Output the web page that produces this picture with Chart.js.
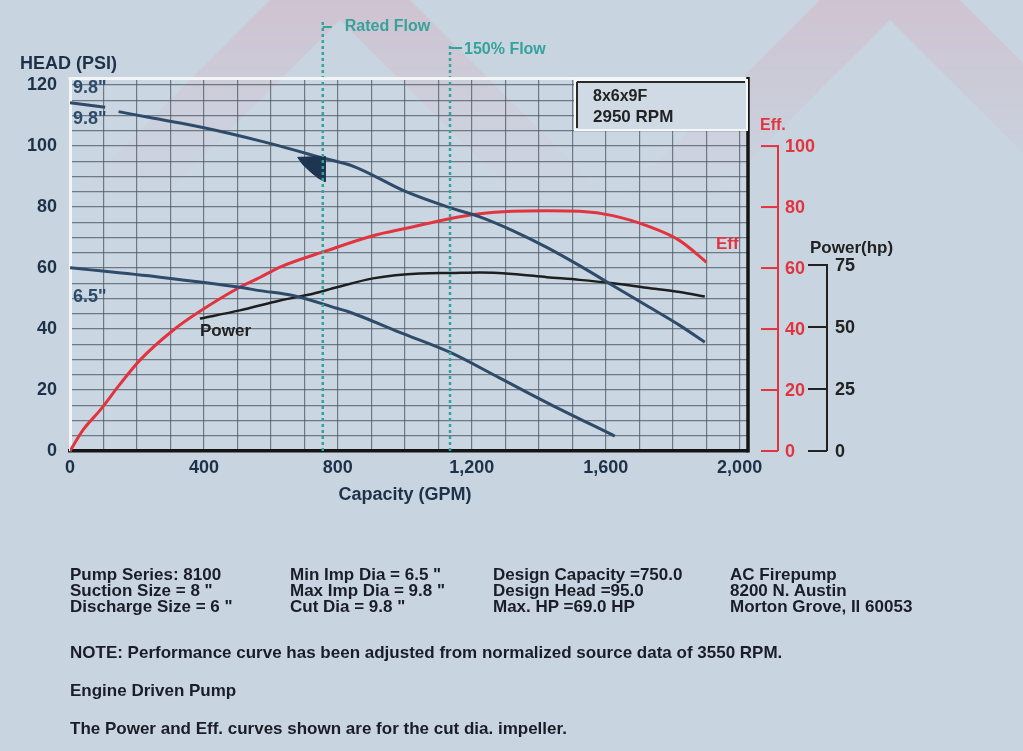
<!DOCTYPE html>
<html>
<head>
<meta charset="utf-8">
<title>Pump curve 8x6x9F</title>
<script src="https://cdn.jsdelivr.net/npm/chart.js@4.4.1/dist/chart.umd.min.js"></script>
<style>
    html, body { margin: 0; padding: 0; }
    body {
        width: 1023px; height: 751px; position: relative; overflow: hidden;
        background: #c8d5e1;
        font-family: "Liberation Sans", Arial, sans-serif;
    }
    #wrap { position: absolute; left: 0; top: 0; width: 1023px; height: 751px; }
    .info {
        position: absolute; white-space: nowrap;
        font-weight: bold; font-size: 17px; line-height: 16px; color: #1a1c27;
    }
</style>
</head>
<body>
<div id="wrap"><canvas id="pumpChart"></canvas></div>

<div class="info" style="left:70px; top:567px">Pump Series: 8100<br>Suction Size = 8 "<br>Discharge Size = 6 "</div>
<div class="info" style="left:290px; top:567px">Min Imp Dia = 6.5 "<br>Max Imp Dia = 9.8 "<br>Cut Dia = 9.8 "</div>
<div class="info" style="left:493px; top:567px">Design Capacity =750.0<br>Design Head =95.0<br>Max. HP =69.0 HP</div>
<div class="info" style="left:730px; top:567px">AC Firepump<br>8200 N. Austin<br>Morton Grove, Il 60053</div>
<div class="info" style="left:70px; top:645px">NOTE: Performance curve has been adjusted from normalized source data of 3550 RPM.</div>
<div class="info" style="left:70px; top:683px">Engine Driven Pump</div>
<div class="info" style="left:70px; top:721px">The Power and Eff. curves shown are for the cut dia. impeller.</div>

<script>
// labelled ticks
const flowLabels = [0, 400, 800, 1200, 1600, 2000];
const headLabels = [0, 20, 40, 60, 80, 100, 120];
const effTicks = [0, 20, 40, 60, 80, 100];
const powerTicks = [0, 25, 50, 75];

// 9.8" impeller head (psi) - gap where the label sits
const head98Flow = [0, 105, 125, 145, 250, 400, 567, 755, 850, 1000, 1134, 1224, 1322, 1424, 1522, 1621, 1722, 1821, 1896];
const head98 = [114.2, 112.7, null, 111.3, 109.1, 106, 101.7, 96.1, 93.2, 85.2, 79.8, 76.8, 72.3, 66.8, 60.8, 54.3, 47.7, 41.2, 35.7];

// 6.5" impeller head (psi)
const head65Flow = [0, 269, 507, 567, 666, 797, 836, 985, 1134, 1284, 1433, 1627];
const head65 = [60.1, 57, 53.7, 52.6, 51, 46.8, 45.5, 38.9, 32.4, 23.9, 15.4, 4.9];

// efficiency (%)
const effFlow = [0, 39, 90, 150, 209, 308, 388, 507, 567, 627, 767, 905, 1015, 1134, 1224, 1322, 1424, 1522, 1621, 1722, 1821, 1901];
const eff = [0, 6.9, 13.4, 22, 29.8, 39.6, 45.8, 53.7, 56.9, 60.3, 65.7, 70.6, 73.3, 76.2, 77.8, 78.6, 78.8, 78.6, 77.2, 73.9, 69, 61.9];

// power (hp)
const powerFlow = [388, 507, 627, 726, 797, 905, 1045, 1134, 1224, 1322, 1424, 1522, 1621, 1722, 1821, 1896];
const power = [53.4, 56.7, 60.7, 63.4, 66.0, 69.6, 71.6, 71.8, 72.0, 71.4, 70.1, 69.0, 67.6, 65.8, 64.1, 62.3];

// design point marker
const markerFlow = [680, 762, 762, 740, 718, 695, 680];
const markerHead = [96.3, 96.6, 88.3, 89.6, 91.6, 94.0, 96.3];

// reference flows
const ratedFlow = 755;
const flow150 = 1135;
const ratedTop = 141;
const flow150Top = 133;

const RED = "#e2343f";
const TEAL = "#35a29b";
const BLUE = "#2e4b69";
const AXIS_TXT = "#1d3149";
const PLOT_BG = "#cad7e3";

function pts(xs, ys) {
    return xs.map((x, i) => ({ x: x, y: ys[i] }));
}

function text(ctx, s, x, y, color, size, align) {
    ctx.fillStyle = color;
    ctx.font = "bold " + size + "px 'Liberation Sans', Arial, sans-serif";
    ctx.textAlign = align || "left";
    ctx.textBaseline = "middle";
    ctx.fillText(s, x, y);
}

function seg(ctx, x1, y1, x2, y2, color, w) {
    ctx.strokeStyle = color;
    ctx.lineWidth = w;
    ctx.beginPath();
    ctx.moveTo(x1, y1);
    ctx.lineTo(x2, y2);
    ctx.stroke();
}

// faint chevron watermark seen in the scan
function chevron(ctx, cx, cy, h, w) {
    ctx.beginPath();
    ctx.moveTo(cx, cy);
    ctx.lineTo(cx + h, cy + h);
    ctx.lineTo(cx + h - w, cy + h);
    ctx.lineTo(cx, cy + w);
    ctx.lineTo(cx - h + w, cy + h);
    ctx.lineTo(cx - h, cy + h);
    ctx.closePath();
    ctx.fill();
}

const decor = {
    id: "decor",
    beforeDraw(chart) {
        const { ctx, chartArea: a } = chart;
        ctx.save();
        ctx.fillStyle = PLOT_BG;
        ctx.fillRect(a.left, a.top, a.right - a.left, a.bottom - a.top);
        const g = ctx.createLinearGradient(0, 0, 0, 210);
        g.addColorStop(0, "rgba(226,150,168,0.28)");
        g.addColorStop(0.5, "rgba(226,150,168,0.12)");
        g.addColorStop(1, "rgba(226,150,168,0)");
        ctx.fillStyle = g;
        chevron(ctx, 340, -70, 300, 90);
        chevron(ctx, 890, -70, 300, 90);
        ctx.restore();
    },
    afterDraw(chart) {
        const { ctx, chartArea: a, scales } = chart;
        const xs = scales.x, yE = scales.yEff, yP = scales.yPow;
        ctx.save();

        // frame: white top, black right
        seg(ctx, a.left - 1.5, a.top - 0.5, a.right, a.top - 0.5, "#f3f5f7", 3);
        seg(ctx, a.right, a.top - 2, a.right, a.bottom + 1.5, "#151515", 3.5);

        // legend box
        const bx = 575, by = 80, bw = 172, bh = 50;
        ctx.fillStyle = "#cfdae5";
        ctx.fillRect(bx, by, bw, bh);
        ctx.strokeStyle = "#f5f7f9";
        ctx.lineWidth = 2;
        ctx.strokeRect(bx, by, bw, bh);
        seg(ctx, bx + 2, by + 2, bx + 2, by + bh - 2, "#2a2a2a", 2);
        seg(ctx, bx + 2, by + 2, bx + bw - 2, by + 2, "#2a2a2a", 2);
        text(ctx, "8x6x9F", 593, 97, "#222", 16);
        text(ctx, "2950 RPM", 593, 117, "#222", 17);

        // axis titles
        text(ctx, "HEAD (PSI)", 20, 64, AXIS_TXT, 18);
        text(ctx, "Capacity (GPM)", 405, 495, AXIS_TXT, 18, "center");

        // curve labels
        text(ctx, "9.8\"", 73, 88, BLUE, 18);
        text(ctx, "9.8\"", 73, 119, BLUE, 18);
        text(ctx, "6.5\"", 73, 297, BLUE, 18);
        text(ctx, "Power", 200, 331, "#222", 17);
        text(ctx, "Eff", 716, 244, RED, 17);

        // flow marker labels
        const xr = xs.getPixelForValue(ratedFlow);
        seg(ctx, xr, 27, xr + 9, 27, TEAL, 2);
        text(ctx, "Rated Flow", xr + 22, 27, TEAL, 16);
        const xf = xs.getPixelForValue(flow150);
        seg(ctx, xf, 48, xf + 12, 48, TEAL, 2);
        text(ctx, "150% Flow", xf + 14, 50, TEAL, 16);

        // efficiency axis
        const ex = a.right + 30;
        seg(ctx, ex, yE.getPixelForValue(effTicks[0]), ex, yE.getPixelForValue(effTicks[effTicks.length - 1]) - 1, RED, 2);
        effTicks.forEach(v => {
            const py = yE.getPixelForValue(v);
            seg(ctx, ex - 17, py, ex, py, RED, 2);
            text(ctx, String(v), ex + 7, py + 1, RED, 18);
        });
        text(ctx, "Eff.", ex - 18, 126, RED, 16);

        // power axis
        const px = a.right + 79;
        seg(ctx, px, yP.getPixelForValue(powerTicks[0]), px, yP.getPixelForValue(powerTicks[powerTicks.length - 1]) - 1, "#222", 2);
        powerTicks.forEach(v => {
            const py = yP.getPixelForValue(v);
            seg(ctx, px - 19, py, px, py, "#222", 2);
            text(ctx, String(v), px + 8, py + 1, "#222", 18);
        });
        text(ctx, "Power(hp)", px - 17, 248, "#222", 17);

        ctx.restore();
    }
};

const ctx = document.getElementById("pumpChart").getContext("2d");

new Chart(ctx, {
    type: "line",
    data: {
        datasets: [
            {
                label: "Rated Flow",
                data: [{ x: ratedFlow, y: 0 }, { x: ratedFlow, y: ratedTop }],
                borderColor: TEAL, borderWidth: 2.5, borderDash: [3, 3], clip: false
            },
            {
                label: "150% Flow",
                data: [{ x: flow150, y: 0 }, { x: flow150, y: flow150Top }],
                borderColor: TEAL, borderWidth: 2.5, borderDash: [3, 3], clip: false
            },
            {
                label: "Design point",
                data: pts(markerFlow, markerHead),
                borderColor: "#1d3550", backgroundColor: "#1d3550",
                borderWidth: 1, fill: "shape", tension: 0
            },
            {
                label: "9.8\"",
                data: pts(head98Flow, head98),
                borderColor: BLUE, borderWidth: 3, cubicInterpolationMode: "monotone", spanGaps: false
            },
            {
                label: "6.5\"",
                data: pts(head65Flow, head65),
                borderColor: BLUE, borderWidth: 3, cubicInterpolationMode: "monotone"
            },
            {
                label: "Power",
                data: pts(powerFlow, power),
                yAxisID: "yPow",
                borderColor: "#1e1e1e", borderWidth: 2.5, cubicInterpolationMode: "monotone"
            },
            {
                label: "Eff",
                data: pts(effFlow, eff),
                yAxisID: "yEff",
                borderColor: RED, borderWidth: 3, cubicInterpolationMode: "monotone"
            }
        ]
    },
    options: {
        responsive: true,
        maintainAspectRatio: false,
        animation: false,
        layout: { padding: { left: 20, right: 275, top: 79, bottom: 260 } },
        elements: { point: { radius: 0 } },
        plugins: {
            legend: { display: false },
            tooltip: { enabled: false }
        },
        scales: {
            x: {
                type: "linear",
                min: 0,
                max: 2025,
                afterFit: s => { s.height = 40; },
                ticks: {
                    stepSize: 100,
                    includeBounds: false,
                    autoSkip: false,
                    maxRotation: 0,
                    padding: 6,
                    color: AXIS_TXT,
                    font: { family: "'Liberation Sans', Arial, sans-serif", size: 18, weight: "bold" },
                    callback: v => flowLabels.includes(v) ? v.toLocaleString("en-US") : ""
                },
                grid: { color: "rgba(75,85,95,0.72)", lineWidth: 1.2, drawTicks: false },
                border: { color: "#151515", width: 3.5 }
            },
            y: {
                type: "linear",
                min: 0,
                max: 122,
                afterFit: s => { s.width = 50; },
                ticks: {
                    stepSize: 5,
                    includeBounds: false,
                    autoSkip: false,
                    padding: 13,
                    color: AXIS_TXT,
                    font: { family: "'Liberation Sans', Arial, sans-serif", size: 18, weight: "bold" },
                    callback: v => headLabels.includes(v) ? String(v) : ""
                },
                grid: { color: "rgba(75,85,95,0.72)", lineWidth: 1.2, drawTicks: false },
                border: { color: "#f3f5f7", width: 3 }
            },
            yEff: { type: "linear", axis: "y", display: false, min: 0, max: 122 },
            yPow: { type: "linear", axis: "y", display: false, min: 0, max: 150 }
        }
    },
    plugins: [decor]
});
</script>
</body>
</html>
